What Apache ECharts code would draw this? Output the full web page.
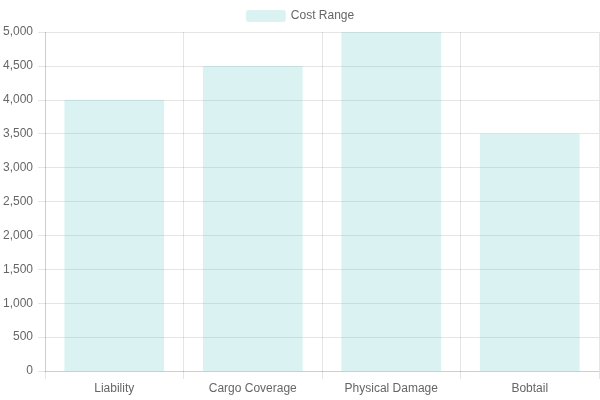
<!DOCTYPE html>
<html>
<head>
<meta charset="utf-8">
<script src="https://cdn.jsdelivr.net/npm/echarts@6/dist/echarts.min.js"></script>
<style>html,body{margin:0;padding:0;background:#fff}#c{width:600px;height:400px}</style>
</head>
<body>
<div id="c"></div>
<script>
const categories = ['Liability', 'Cargo Coverage', 'Physical Damage', 'Bobtail'];
const costRange = [4000, 4500, 5000, 3500];
const seriesName = 'Cost Range';

const chart = echarts.init(document.getElementById('c'), null, {renderer: 'canvas'});
const font = 'Liberation Sans, Helvetica, Arial, sans-serif';
const gridColor = 'rgba(0,0,0,0.1)';
chart.setOption({
  animation: false,
  textStyle: {fontFamily: font},
  legend: {
    top: 5, left: 'center',
    itemWidth: 40, itemHeight: 12, itemGap: 10,
    textStyle: {color: '#666', fontSize: 12, fontFamily: font},
    data: [seriesName]
  },
  grid: {left: 44, right: 1, top: 32, bottom: 29, containLabel: false},
  xAxis: {
    type: 'category',
    data: categories,
    boundaryGap: true,
    axisLine: {show: true, lineStyle: {color: gridColor}},
    axisTick: {show: true, length: 8, lineStyle: {color: gridColor}},
    splitLine: {show: true, lineStyle: {color: gridColor}},
    axisLabel: {color: '#666', fontSize: 12, fontFamily: font, margin: 12}
  },
  yAxis: {
    type: 'value',
    min: 0, max: 5000, interval: 500,
    axisLine: {show: true, lineStyle: {color: gridColor}},
    axisTick: {show: true, length: 7, lineStyle: {color: gridColor}},
    splitLine: {show: true, lineStyle: {color: gridColor}},
    axisLabel: {color: '#666', fontSize: 12, fontFamily: font, margin: 12,
      formatter: v => v.toLocaleString('en-US')}
  },
  series: [{
    name: seriesName,
    type: 'bar',
    data: costRange,
    barCategoryGap: '28%',
    itemStyle: {color: 'rgba(75,192,192,0.2)'}
  }]
});
</script>
</body>
</html>
